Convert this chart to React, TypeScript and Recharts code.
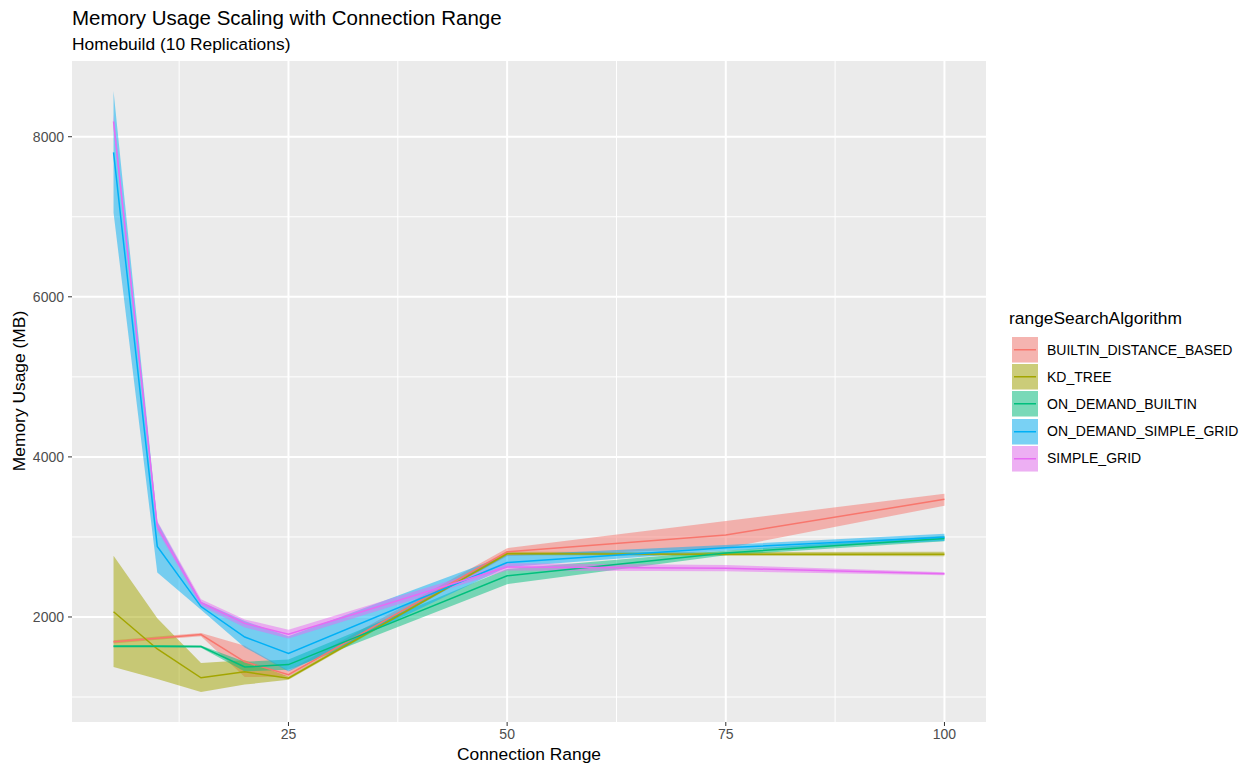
import React from 'react'
import { ComposedChart, Area, Line, XAxis, YAxis, CartesianGrid } from 'recharts';

// connection range values on the x axis
const connectionRange: number[] = [5, 10, 15, 20, 25, 50, 75, 100];

// mean memory usage (MB) and ribbon bounds per algorithm
const builtinMean: number[] = [1690, 1735, 1780, 1440, 1280, 2815, 3025, 3470];
const builtinLow: number[] = [1670, 1715, 1760, 1250, 1255, 2760, 2860, 3390];
const builtinHigh: number[] = [1710, 1755, 1800, 1640, 1330, 2860, 3200, 3540];

const kdMean: number[] = [2065, 1600, 1240, 1315, 1235, 2790, 2785, 2785];
const kdLow: number[] = [1375, 1225, 1063, 1155, 1215, 2770, 2765, 2760];
const kdHigh: number[] = [2765, 1985, 1425, 1460, 1255, 2815, 2810, 2815];

const odBuiltinMean: number[] = [1635, 1635, 1630, 1375, 1405, 2515, 2800, 2980];
const odBuiltinLow: number[] = [1620, 1620, 1615, 1320, 1340, 2410, 2770, 2945];
const odBuiltinHigh: number[] = [1650, 1650, 1645, 1440, 1470, 2600, 2830, 3015];

const odGridMean: number[] = [7805, 2880, 2130, 1750, 1545, 2680, 2865, 2995];
const odGridLow: number[] = [7050, 2555, 2090, 1620, 1320, 2625, 2830, 2950];
const odGridHigh: number[] = [8570, 3190, 2190, 1950, 1760, 2775, 2900, 3040];

const gridMean: number[] = [8190, 3130, 2180, 1920, 1785, 2625, 2610, 2540];
const gridLow: number[] = [8110, 3080, 2140, 1870, 1730, 2580, 2570, 2520];
const gridHigh: number[] = [8270, 3200, 2220, 1970, 1840, 2670, 2650, 2560];

const xTicks: number[] = [25, 50, 75, 100];
const xMinor: number[] = [12.5, 37.5, 62.5, 87.5];
const yTicks: number[] = [2000, 4000, 6000, 8000];
const yMinor: number[] = [1000, 3000, 5000, 7000];

const series = [
    { key: 'bdb', name: 'BUILTIN_DISTANCE_BASED', color: '#F8766D', mean: builtinMean, low: builtinLow, high: builtinHigh },
    { key: 'kd', name: 'KD_TREE', color: '#A3A500', mean: kdMean, low: kdLow, high: kdHigh },
    { key: 'odb', name: 'ON_DEMAND_BUILTIN', color: '#00BF7D', mean: odBuiltinMean, low: odBuiltinLow, high: odBuiltinHigh },
    { key: 'odsg', name: 'ON_DEMAND_SIMPLE_GRID', color: '#00B0F6', mean: odGridMean, low: odGridLow, high: odGridHigh },
    { key: 'sg', name: 'SIMPLE_GRID', color: '#E76BF3', mean: gridMean, low: gridLow, high: gridHigh },
];

const data = connectionRange.map((x, i) => {
    const row: Record<string, any> = { x };
    series.forEach(s => {
        row[s.key] = s.mean[i];
        row[s.key + 'Range'] = [s.low[i], s.high[i]];
    });
    return row;
});

const font = '"Liberation Sans", Arial, Helvetica, sans-serif';

const App: React.FC = () => {
    return (
        <div style={{ position: 'absolute', left: 0, top: 0, width: 1253, height: 769, background: '#fff', fontFamily: font }}>
            <div style={{ position: 'absolute', left: 72, top: 6, fontSize: 20.5, color: '#000', whiteSpace: 'nowrap' }}>
                Memory Usage Scaling with Connection Range
            </div>
            <div style={{ position: 'absolute', left: 72, top: 34, fontSize: 17.4, color: '#000', whiteSpace: 'nowrap' }}>
                Homebuild (10 Replications)
            </div>

            <ComposedChart width={1253} height={769} data={data}
                margin={{ top: 61, right: 267, left: 12, bottom: 7 }}>
                <CartesianGrid fill="#EBEBEB" stroke="#FFFFFF" strokeWidth={1}
                    horizontalValues={yMinor} verticalValues={xMinor} />
                <CartesianGrid stroke="#FFFFFF" strokeWidth={2}
                    horizontalValues={yTicks} verticalValues={xTicks} />
                <XAxis dataKey="x" type="number" domain={[0.25, 104.75]} ticks={xTicks}
                    height={40} tickSize={4} tickMargin={3} axisLine={false}
                    tickLine={{ stroke: '#333333' }}
                    tick={{ fill: '#4D4D4D', fontSize: 14, fontFamily: font }} />
                <YAxis type="number" domain={[688, 8946]} ticks={yTicks}
                    width={60} tickSize={4} tickMargin={4} axisLine={false}
                    tickLine={{ stroke: '#333333' }}
                    tick={{ fill: '#4D4D4D', fontSize: 14, fontFamily: font }} />
                {series.map(s => (
                    <Area key={s.key + 'Range'} dataKey={s.key + 'Range'} type="linear"
                        stroke="none" fill={s.color} fillOpacity={0.5}
                        isAnimationActive={false} dot={false} activeDot={false} />
                ))}
                {series.map(s => (
                    <Line key={s.key} dataKey={s.key} type="linear" stroke={s.color}
                        strokeWidth={1.5} dot={false} activeDot={false} isAnimationActive={false} />
                ))}
            </ComposedChart>

            <div style={{ position: 'absolute', left: 0, top: 744, width: 1058, textAlign: 'center', fontSize: 17.4, color: '#000' }}>
                Connection Range
            </div>
            <div style={{ position: 'absolute', left: 19, top: 391, transform: 'translate(-50%, -50%) rotate(-90deg)', fontSize: 17.4, color: '#000', whiteSpace: 'nowrap' }}>
                Memory Usage (MB)
            </div>

            <div style={{ position: 'absolute', left: 1009, top: 308 }}>
                <div style={{ fontSize: 17.4, color: '#000', height: 28, whiteSpace: 'nowrap' }}>rangeSearchAlgorithm</div>
                {series.map(s => (
                    <div key={s.key} style={{ display: 'flex', alignItems: 'center', height: 27.2 }}>
                        <svg width={30} height={27} style={{ display: 'block' }}>
                            <rect x={3} y={1} width={26} height={25.5} fill="#F2F2F2" />
                            <rect x={3} y={1} width={26} height={25.5} fill={s.color} fillOpacity={0.5} />
                            <line x1={5} x2={27} y1={13.75} y2={13.75} stroke={s.color} strokeWidth={1.5} />
                        </svg>
                        <span style={{ marginLeft: 8, fontSize: 14, color: '#000', whiteSpace: 'nowrap' }}>{s.name}</span>
                    </div>
                ))}
            </div>
        </div>
    );
}

export default App
